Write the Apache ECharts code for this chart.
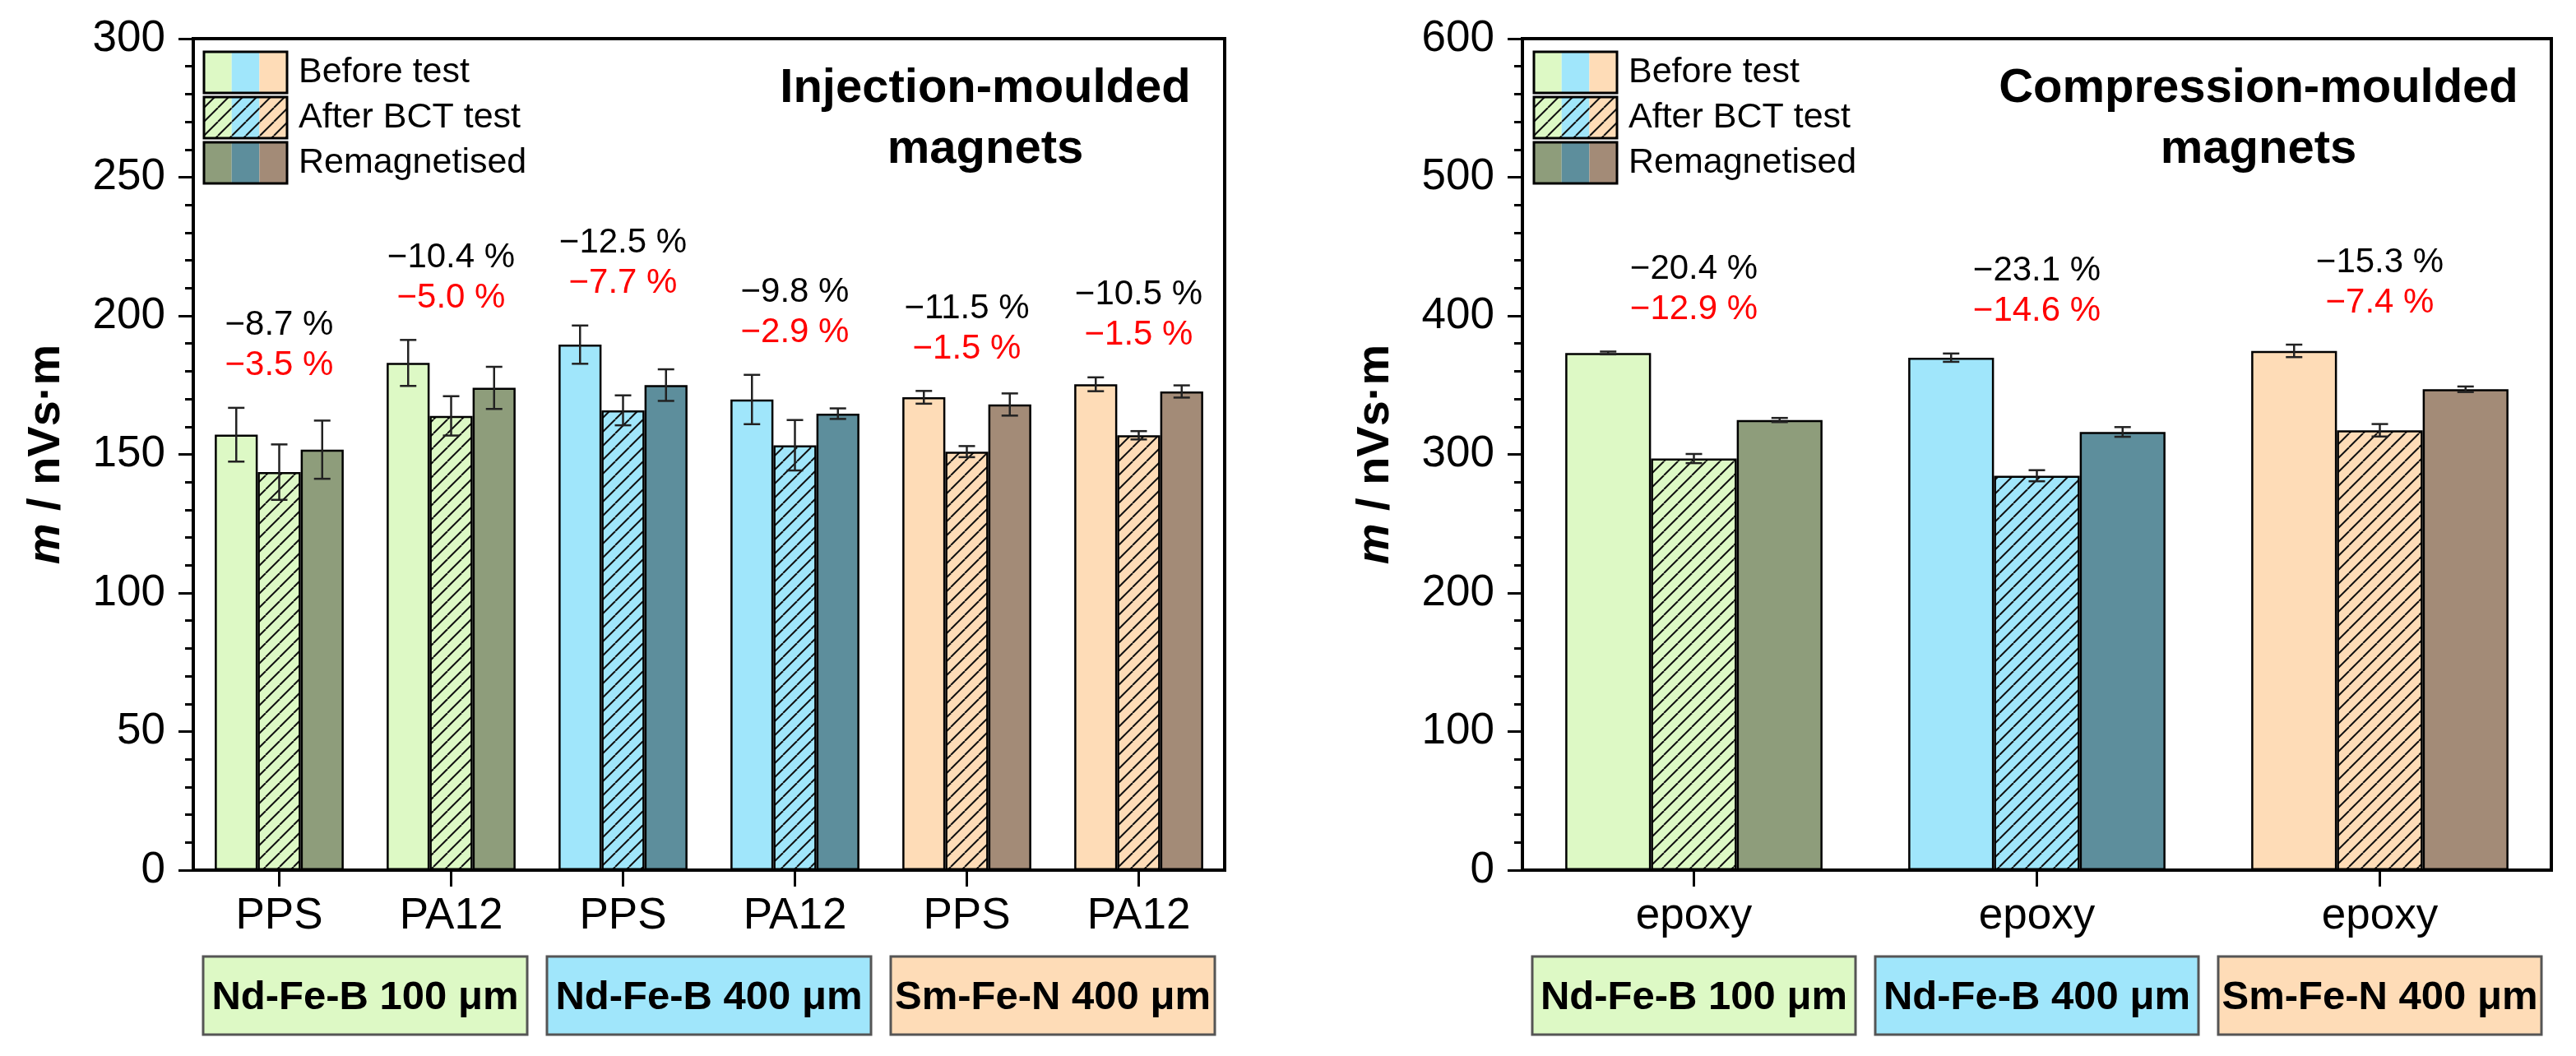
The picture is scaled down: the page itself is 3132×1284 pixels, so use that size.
<!DOCTYPE html>
<html>
<head>
<meta charset="utf-8">
<script src="https://cdn.jsdelivr.net/npm/echarts@6/dist/echarts.min.js"></script>
<style>
  html, body { margin: 0; padding: 0; background: #fff; }
  #chart { width: 3132px; height: 1284px; }
</style>
</head>
<body>
<div id="chart"></div>
<script>
// injection-moulded (left panel)
const leftCats = ["PPS", "PA12", "PPS", "PA12", "PPS", "PA12"];
const leftMaterial = [0, 0, 1, 1, 2, 2];
const leftBefore = [157.1, 183.0, 189.6, 169.8, 170.6, 175.3];
const leftBeforeErr = [9.7, 8.3, 6.9, 8.9, 2.3, 2.5];
const leftAfter = [143.6, 163.9, 165.9, 153.3, 151.0, 156.9];
const leftAfterErr = [10.0, 7.1, 5.4, 9.1, 2.0, 1.5];
const leftRemag = [151.7, 174.0, 175.0, 164.7, 168.0, 172.7];
const leftRemagErr = [10.5, 7.6, 5.7, 1.9, 4.0, 2.2];
const leftLoss = ["\u22128.7 %", "\u221210.4 %", "\u221212.5 %", "\u22129.8 %", "\u221211.5 %", "\u221210.5 %"];
const leftRemain = ["\u22123.5 %", "\u22125.0 %", "\u22127.7 %", "\u22122.9 %", "\u22121.5 %", "\u22121.5 %"];
const leftGroups = [[0, 1, 0], [2, 3, 1], [4, 5, 2]];

// compression-moulded (right panel)
const rightCats = ["epoxy", "epoxy", "epoxy"];
const rightMaterial = [0, 1, 2];
const rightBefore = [373.2, 369.8, 374.7];
const rightBeforeErr = [1.0, 3.0, 4.5];
const rightAfter = [297.0, 284.6, 317.4];
const rightAfterErr = [3.3, 4.0, 4.5];
const rightRemag = [324.8, 316.2, 347.0];
const rightRemagErr = [1.5, 3.5, 2.0];
const rightLoss = ["\u221220.4 %", "\u221223.1 %", "\u221215.3 %"];
const rightRemain = ["\u221212.9 %", "\u221214.6 %", "\u22127.4 %"];
const rightGroups = [[0, 0, 0], [1, 1, 1], [2, 2, 2]];

const materials = ["Nd-Fe-B 100 \u03bcm", "Nd-Fe-B 400 \u03bcm", "Sm-Fe-N 400 \u03bcm"];
const legendNames = ["Before test", "After BCT test", "Remagnetised"];

const beforeColors = ["#ddf9c5", "#a0e6fb", "#fedcb7"];
const remagColors = ["#8e9d7b", "#5d8e9c", "#a38b77"];
const FONT = "'Liberation Sans', Arial, sans-serif";

function hatch(bg) {
  const s = 17;
  const c = document.createElement("canvas");
  c.width = s;
  c.height = s;
  const ctx = c.getContext("2d");
  ctx.fillStyle = bg;
  ctx.fillRect(0, 0, s, s);
  ctx.strokeStyle = "#111";
  ctx.lineWidth = 2;
  for (let k = -1; k <= 1; k++) {
    ctx.beginPath();
    ctx.moveTo(k * s, s);
    ctx.lineTo(k * s + s, 0);
    ctx.stroke();
  }
  return { image: c, repeat: "repeat" };
}
const hatchColors = beforeColors.map(hatch);

const barBorder = { borderColor: "#000", borderWidth: 2.5 };

function barSeries(idx, values, mats, colors) {
  return {
    type: "bar",
    xAxisIndex: idx,
    yAxisIndex: idx,
    barGap: "0%",
    barCategoryGap: "25%",
    data: values.map((v, i) => ({
      value: v,
      itemStyle: Object.assign({ color: colors[mats[i]] }, barBorder),
    })),
  };
}

function errSeries(idx, values, errs, offset) {
  return {
    type: "custom",
    xAxisIndex: idx,
    yAxisIndex: idx,
    z: 5,
    encode: { x: 0, y: 1 },
    data: values.map((v, i) => [i, v, errs[i]]),
    renderItem: (params, api) => {
      const i = api.value(0);
      const w = api.size([1, 0])[0];
      const x = api.coord([i, 0])[0] + offset * w * 0.25;
      const top = api.coord([i, api.value(1) + api.value(2)])[1];
      const bot = api.coord([i, api.value(1) - api.value(2)])[1];
      const cap = 10;
      const st = { stroke: "#222", lineWidth: 2.5 };
      return {
        type: "group",
        children: [
          { type: "line", shape: { x1: x, y1: top, x2: x, y2: bot }, style: st },
          { type: "line", shape: { x1: x - cap, y1: top, x2: x + cap, y2: top }, style: st },
          { type: "line", shape: { x1: x - cap, y1: bot, x2: x + cap, y2: bot }, style: st },
        ],
      };
    },
  };
}

function noteSeries(idx, before, beforeErr, loss, remain) {
  return {
    type: "custom",
    xAxisIndex: idx,
    yAxisIndex: idx,
    z: 6,
    encode: { x: 0, y: 1 },
    data: before.map((v, i) => [i, v + beforeErr[i]]),
    renderItem: (params, api) => {
      const i = api.value(0);
      const p = api.coord([i, api.value(1)]);
      return {
        type: "group",
        children: [
          {
            type: "text",
            x: p[0],
            y: p[1] - 100,
            style: { text: loss[i], fill: "#000", font: "42px " + FONT, align: "center", verticalAlign: "middle" },
          },
          {
            type: "text",
            x: p[0],
            y: p[1] - 51,
            style: { text: remain[i], fill: "#ff0000", font: "42px " + FONT, align: "center", verticalAlign: "middle" },
          },
        ],
      };
    },
  };
}

function groupSeries(idx, groups) {
  return {
    type: "custom",
    xAxisIndex: idx,
    yAxisIndex: idx,
    z: 6,
    clip: false,
    encode: { x: 0, y: 1 },
    data: groups.map((g) => [g[0], 0, g[1], g[2]]),
    renderItem: (params, api) => {
      const w = api.size([1, 0])[0];
      const a = api.coord([api.value(0), 0]);
      const b = api.coord([api.value(2), 0]);
      const m = api.value(3);
      const x0 = a[0] - w / 2 + 12;
      const x1 = b[0] + w / 2 - 12;
      const y0 = a[1] + 105;
      return {
        type: "group",
        children: [
          {
            type: "rect",
            shape: { x: x0, y: y0, width: x1 - x0, height: 95 },
            style: { fill: beforeColors[m], stroke: "#555", lineWidth: 3 },
          },
          {
            type: "text",
            x: (x0 + x1) / 2,
            y: y0 + 50,
            style: {
              text: materials[m],
              fill: "#000",
              font: "bold 49px " + FONT,
              align: "center",
              verticalAlign: "middle",
            },
          },
        ],
      };
    },
  };
}

function yAxis(idx, max, interval) {
  return {
    gridIndex: idx,
    type: "value",
    min: 0,
    max: max,
    interval: interval,
    name: "{i|m} / nVs\u00b7m",
    nameLocation: "middle",
    nameGap: 150,
    nameTextStyle: {
      color: "#000",
      fontFamily: FONT,
      fontSize: 56,
      fontWeight: "bold",
      rich: { i: { fontStyle: "italic", fontWeight: "bold", fontSize: 56, fontFamily: FONT } },
    },
    axisLine: { show: true, lineStyle: { color: "#000", width: 4 } },
    axisTick: { show: true, length: 18, lineStyle: { color: "#000", width: 3 } },
    minorTick: { show: true, splitNumber: 5, length: 10, lineStyle: { color: "#000", width: 3 } },
    splitLine: { show: false },
    axisLabel: { color: "#000", fontFamily: FONT, fontSize: 53, margin: 34 },
  };
}

function xAxis(idx, cats) {
  return {
    gridIndex: idx,
    type: "category",
    data: cats,
    axisLine: { show: true, lineStyle: { color: "#000", width: 4 } },
    axisTick: { show: true, alignWithLabel: true, length: 20, lineStyle: { color: "#000", width: 3 } },
    axisLabel: { color: "#000", fontFamily: FONT, fontSize: 53, margin: 30 },
    splitLine: { show: false },
  };
}

function legendBlock(x, y) {
  const children = [];
  const fills = [beforeColors, hatchColors, remagColors];
  for (let r = 0; r < 3; r++) {
    for (let k = 0; k < 3; k++) {
      children.push({
        type: "rect",
        shape: { x: k * 33.7, y: r * 55, width: 33.7, height: 50 },
        style: { fill: fills[r][k] },
      });
    }
    children.push({
      type: "rect",
      shape: { x: 0, y: r * 55, width: 101, height: 50 },
      style: { fill: "none", stroke: "#000", lineWidth: 3 },
    });
    children.push({
      type: "text",
      x: 115,
      y: r * 55 + 25,
      style: { text: legendNames[r], fill: "#000", font: "43px " + FONT, verticalAlign: "middle" },
    });
  }
  return { type: "group", x: x, y: y, children: children };
}

function title(x, lines) {
  return {
    type: "group",
    children: lines.map((t, i) => ({
      type: "text",
      x: x,
      y: 108 + i * 74,
      style: { text: t, fill: "#000", font: "bold 58px " + FONT, align: "center", verticalAlign: "middle" },
    })),
  };
}

const option = {
  backgroundColor: "#fff",
  animation: false,
  grid: [
    { left: 235, top: 47, width: 1254, height: 1011, show: true, borderColor: "#000", borderWidth: 4 },
    { left: 1851, top: 47, width: 1251, height: 1011, show: true, borderColor: "#000", borderWidth: 4 },
  ],
  xAxis: [xAxis(0, leftCats), xAxis(1, rightCats)],
  yAxis: [yAxis(0, 300, 50), yAxis(1, 600, 100)],
  graphic: [
    legendBlock(248, 63),
    legendBlock(1865, 63),
    title(1198, ["Injection-moulded", "magnets"]),
    title(2746, ["Compression-moulded", "magnets"]),
  ],
  series: [
    barSeries(0, leftBefore, leftMaterial, beforeColors),
    barSeries(0, leftAfter, leftMaterial, hatchColors),
    barSeries(0, leftRemag, leftMaterial, remagColors),
    errSeries(0, leftBefore, leftBeforeErr, -1),
    errSeries(0, leftAfter, leftAfterErr, 0),
    errSeries(0, leftRemag, leftRemagErr, 1),
    noteSeries(0, leftBefore, leftBeforeErr, leftLoss, leftRemain),
    groupSeries(0, leftGroups),

    barSeries(1, rightBefore, rightMaterial, beforeColors),
    barSeries(1, rightAfter, rightMaterial, hatchColors),
    barSeries(1, rightRemag, rightMaterial, remagColors),
    errSeries(1, rightBefore, rightBeforeErr, -1),
    errSeries(1, rightAfter, rightAfterErr, 0),
    errSeries(1, rightRemag, rightRemagErr, 1),
    noteSeries(1, rightBefore, rightBeforeErr, rightLoss, rightRemain),
    groupSeries(1, rightGroups),
  ],
};

const chart = echarts.init(document.getElementById("chart"));
chart.setOption(option);
</script>
</body>
</html>
